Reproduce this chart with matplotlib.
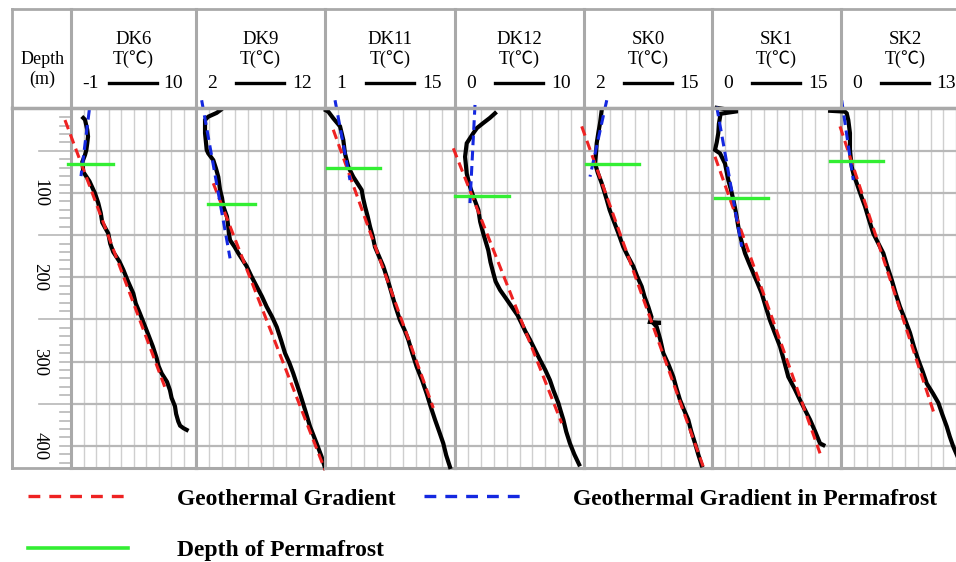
import matplotlib
matplotlib.use('Agg')
import matplotlib.pyplot as plt
from matplotlib.lines import Line2D
import numpy as np

plt.rcParams['font.family'] = ['Liberation Serif', 'Noto Sans CJK SC', 'DejaVu Sans']
plt.rcParams['lines.scale_dashes'] = False

# ---------------- data ----------------
wells = ['DK6', 'DK9', 'DK11', 'DK12', 'SK0', 'SK1', 'SK2']
t_min = [-1, 2, 1, 0, 2, 0, 0]
t_max = [10, 12, 15, 10, 15, 15, 13]
depth_labels = [100, 200, 300, 400]

dk6_depth = [11, 13, 25, 33, 41, 49, 55, 63, 75, 86, 96, 100, 112, 124, 135, 148, 160, 170, 181, 191, 205, 219, 231, 243, 256, 268, 282, 296, 305, 314, 324, 334, 343, 353, 362, 371, 376, 379, 381]
dk6_temp = [0.08, 0.23, 0.43, 0.50, 0.43, 0.35, 0.23, 0.0, 0.08, 0.62, 0.96, 1.10, 1.40, 1.62, 1.75, 2.28, 2.45, 2.72, 3.25, 3.60, 4.02, 4.48, 4.70, 5.07, 5.45, 5.80, 6.20, 6.54, 6.70, 6.98, 7.45, 7.71, 7.85, 8.15, 8.25, 8.44, 8.60, 8.90, 9.18]

dk9_depth = [1.5, 5, 9.5, 13.4, 29, 49, 53, 61, 71, 81, 96, 106, 116, 128, 140, 148, 156, 164, 171.5, 187, 199, 211, 223, 235, 247, 259, 275, 290, 302, 314, 326, 338, 357, 377, 395, 413, 426]
dk9_temp = [3.91, 3.60, 2.95, 2.70, 2.70, 2.83, 2.95, 3.34, 3.55, 3.73, 3.86, 4.02, 4.12, 4.40, 4.50, 4.55, 4.64, 5.00, 5.28, 5.93, 6.30, 6.71, 7.12, 7.48, 7.90, 8.26, 8.60, 8.90, 9.25, 9.54, 9.80, 10.06, 10.45, 10.84, 11.30, 11.74, 12.0]

dk11_depth = [2, 3.6, 11.4, 21, 37, 53, 69, 81, 96.4, 106, 116, 128, 140, 152, 164, 176, 187, 203, 219, 235, 251, 262, 274, 290, 306, 322, 338, 354, 369, 383, 397, 411, 425]
dk11_temp = [1.10, 1.36, 1.89, 2.62, 2.97, 3.15, 3.51, 4.05, 4.95, 5.10, 5.31, 5.60, 5.85, 6.15, 6.38, 6.85, 7.28, 7.75, 8.18, 8.60, 9.08, 9.55, 9.97, 10.40, 10.87, 11.45, 11.95, 12.40, 12.85, 13.30, 13.74, 14.05, 14.46]

dk12_depth = [5.5, 11, 17, 23, 29, 41, 57, 77, 92.5, 104, 120, 134, 148, 168, 182, 195, 205, 215, 225, 235, 245, 255, 264, 274, 286, 298, 310, 322, 335, 349, 359, 369, 383, 397, 410, 422]
dk12_temp = [3.10, 2.70, 2.19, 1.70, 1.42, 0.91, 0.78, 0.91, 1.16, 1.42, 1.81, 1.95, 2.19, 2.58, 2.75, 2.97, 3.15, 3.49, 3.95, 4.40, 4.85, 5.17, 5.45, 5.81, 6.20, 6.59, 7.00, 7.36, 7.65, 8.01, 8.20, 8.40, 8.62, 8.91, 9.25, 9.62]

sk0_depth = [1.5, 17, 29, 41, 53, 65, 76, 88.5, 98, 108, 120, 132, 148, 164, 176, 187, 199, 211, 223, 235, 247, 253, 254, 255, 259, 274, 290, 304, 318, 332, 345.5, 357, 369, 383, 397, 410, 423]
sk0_temp = [3.80, 3.63, 3.45, 3.29, 3.22, 3.12, 3.40, 3.80, 4.05, 4.31, 4.60, 4.98, 5.50, 5.99, 6.50, 7.01, 7.40, 7.86, 8.15, 8.53, 8.85, 8.70, 9.80, 9.10, 9.39, 9.75, 10.06, 10.60, 11.07, 11.40, 11.75, 12.15, 12.59, 12.90, 13.28, 13.60, 13.96]

sk1_depth = [-1, 3, 6, 18, 29, 40, 49, 53, 65, 85, 96, 108, 124, 140, 156, 171.5, 183, 195, 207, 219, 235, 251, 266, 282, 300, 318, 332, 345.5, 357, 369, 383, 397, 399]
sk1_temp = [0.55, 3.00, 1.00, 0.80, 0.73, 0.55, 0.35, 0.93, 1.51, 1.90, 2.20, 2.48, 2.80, 3.06, 3.40, 3.84, 4.30, 4.80, 5.30, 5.78, 6.25, 6.74, 7.30, 7.91, 8.40, 8.87, 9.60, 10.23, 10.80, 11.40, 12.00, 12.56, 12.95]

sk2_depth = [2.5, 3.5, 5.5, 13.4, 29, 49, 69, 79, 88.5, 102, 116, 132, 148, 160, 171.5, 187, 203, 219, 235, 250, 266, 282, 298, 312, 326, 338, 349, 363, 377, 389, 401, 425]
sk2_temp = [-1.10, 0.40, 0.58, 0.74, 0.91, 0.91, 1.09, 1.30, 1.60, 2.00, 2.44, 2.85, 3.28, 3.80, 4.30, 4.70, 5.15, 5.55, 5.99, 6.50, 7.01, 7.40, 7.85, 8.30, 8.71, 9.35, 9.89, 10.30, 10.74, 11.05, 11.41, 12.30]

profile_depths = [dk6_depth, dk9_depth, dk11_depth, dk12_depth, sk0_depth, sk1_depth, sk2_depth]
profile_temps = [dk6_temp, dk9_temp, dk11_temp, dk12_temp, sk0_temp, sk1_temp, sk2_temp]

# geothermal gradient (red) line end points
grad_d0 = [13.5, 88.5, 25, 47, 21, 57, 21]
grad_t0 = [-1.53, 3.34, 1.89, -0.13, 1.77, 0.35, -0.10]
grad_d1 = [336, 428.6, 355, 373, 425, 408.8, 365]
grad_t1 = [7.42, 12.0, 12.66, 8.27, 14.12, 12.56, 9.55]

# geothermal gradient in permafrost (blue) line end points
pf_grad_d0 = [1.5, -10, -10, -4.4, -10, -2.4, -10]
pf_grad_t0 = [0.61, 2.44, 2.08, 1.55, 4.31, 0.55, 0.07]
pf_grad_d1 = [80, 177.5, 84.6, 112, 80.6, 163.7, 84.6]
pf_grad_t1 = [-0.12, 4.64, 3.69, 1.16, 2.61, 3.45, 1.25]

# depth of permafrost (green)
pf_depth = [66, 113.4, 70, 103.6, 66, 106.3, 61.7]
pf_t0 = [-1.29, 2.95, 1.18, 0.0, 2.20, 0.35, -1.12]
pf_t1 = [2.67, 6.57, 6.92, 4.19, 7.62, 6.48, 4.30]

legend_labels = ['Geothermal Gradient', 'Depth of Permafrost', 'Geothermal Gradient in Permafrost']

# ---------------- layout ----------------
W, H = 956, 562
fig = plt.figure(figsize=(W / 100, H / 100), dpi=100)
edges = [71, 196, 325, 455, 584, 712, 841, 969]
frame_left, frame_top, head_bot, plot_bot = 12, 9, 107.5, 468
D_TOP, D_BOT = -1.4, 426.2

GRID_MAJ = '#b8b8b8'
GRID_MIN = '#cfcfcf'
FRAME = '#a9a9a9'
RED = '#ee2222'
BLUE = '#1428e0'
GREEN = '#33ee33'


def fx(px):
    return px / W


def fy(py):
    return 1 - py / H


serif = ['Liberation Serif', 'Noto Sans CJK SC', 'DejaVu Sans']

# depth column
ax0 = fig.add_axes([fx(frame_left), fy(plot_bot), fx(edges[0]) - fx(frame_left), (plot_bot - head_bot) / H])
ax0.set_ylim(D_BOT, D_TOP)
ax0.set_xlim(0, 1)
ax0.set_xticks([])
ax0.set_yticks([])
for s in ax0.spines.values():
    s.set_color(FRAME)
    s.set_linewidth(2)
tr0 = ax0.get_yaxis_transform()
for d in range(10, 426, 10):
    x0 = 0.45 if d % 100 == 50 else 0.81
    ax0.plot([x0, 1.0], [d, d], color=GRID_MAJ, lw=1.2, transform=tr0, clip_on=False)
for d in depth_labels:
    ax0.text(0.47, d, str(d), rotation=-90, ha='center', va='center', transform=tr0,
             fontsize=13.5, family=serif)

# panels
for i, name in enumerate(wells):
    l, r = edges[i], edges[i + 1]
    ax = fig.add_axes([fx(l), fy(plot_bot), fx(r) - fx(l), (plot_bot - head_bot) / H])
    ax.set_xlim(t_min[i], t_max[i])
    ax.set_ylim(D_BOT, D_TOP)
    ax.set_xticks(np.linspace(t_min[i], t_max[i], 11))
    ax.set_yticks(np.arange(50, 401, 50))
    ax.xaxis.grid(True, color=GRID_MIN, lw=1.0)
    ax.yaxis.grid(True, color=GRID_MAJ, lw=1.6)
    ax.set_axisbelow(True)
    ax.tick_params(length=0, labelbottom=False, labelleft=False)
    for s in ax.spines.values():
        s.set_color(FRAME)
        s.set_linewidth(2.2)

    ax.plot(profile_temps[i], profile_depths[i], color='black', lw=3.0, clip_on=False,
            solid_joinstyle='miter', zorder=3)
    ax.plot([grad_t0[i], grad_t1[i]], [grad_d0[i], grad_d1[i]], color=RED, lw=2.2,
            dashes=(7, 4), clip_on=False, zorder=4)
    ax.plot([pf_grad_t0[i], pf_grad_t1[i]], [pf_grad_d0[i], pf_grad_d1[i]], color=BLUE, lw=2.2,
            dashes=(7, 4), clip_on=False, zorder=4)
    ax.plot([pf_t0[i], pf_t1[i]], [pf_depth[i], pf_depth[i]], color=GREEN, lw=2.4,
            clip_on=False, zorder=5)

# header overlay
axh = fig.add_axes([0, 0, 1, 1], zorder=10)
axh.set_xlim(0, W)
axh.set_ylim(H, 0)
axh.axis('off')
axh.plot([frame_left, W + 20], [frame_top, frame_top], color=FRAME, lw=2)
axh.plot([frame_left, W + 20], [head_bot, head_bot], color=FRAME, lw=2.5)
axh.plot([frame_left, frame_left], [frame_top, plot_bot], color=FRAME, lw=2)
for e in edges:
    axh.plot([e, e], [frame_top, head_bot], color=FRAME, lw=2.2)

axh.text((frame_left + edges[0]) / 2 + 1, 60, 'Depth', ha='center', va='center', fontsize=13, family=serif)
axh.text((frame_left + edges[0]) / 2 + 1, 79, '(m)', ha='center', va='center', fontsize=13, family=serif)
for i, name in enumerate(wells):
    l, r = edges[i], edges[i + 1]
    c = (l + r) / 2
    axh.text(c, 39, name, ha='center', va='center', fontsize=13.5, family=serif)
    axh.text(c, 59, 'T(\u2103)', ha='center', va='center', fontsize=13, family=serif)
    axh.text(l + 11, 84, f'{t_min[i]:g}', ha='left', va='center', fontsize=14, family=serif)
    axh.text(r - 13, 84, f'{t_max[i]:g}', ha='right', va='center', fontsize=14, family=serif)
    axh.plot([c - 24, c + 24], [83, 83], color='black', lw=2.4)

# legend
handles = [Line2D([], [], color=RED, lw=2.4, dashes=(8.5, 6.5)),
           Line2D([], [], color=GREEN, lw=2.6),
           Line2D([], [], color=BLUE, lw=2.4, dashes=(8.5, 6.5))]
fig.legend(handles, legend_labels, ncol=2, loc='upper left',
           bbox_to_anchor=(fx(28), fy(488)), frameon=False,
           prop=dict(family=serif, weight='bold', size=17),
           handlelength=4.24, handletextpad=2.08, columnspacing=1.2,
           labelspacing=1.28, borderpad=0, borderaxespad=0)

fig.savefig('out.png', dpi=100)
